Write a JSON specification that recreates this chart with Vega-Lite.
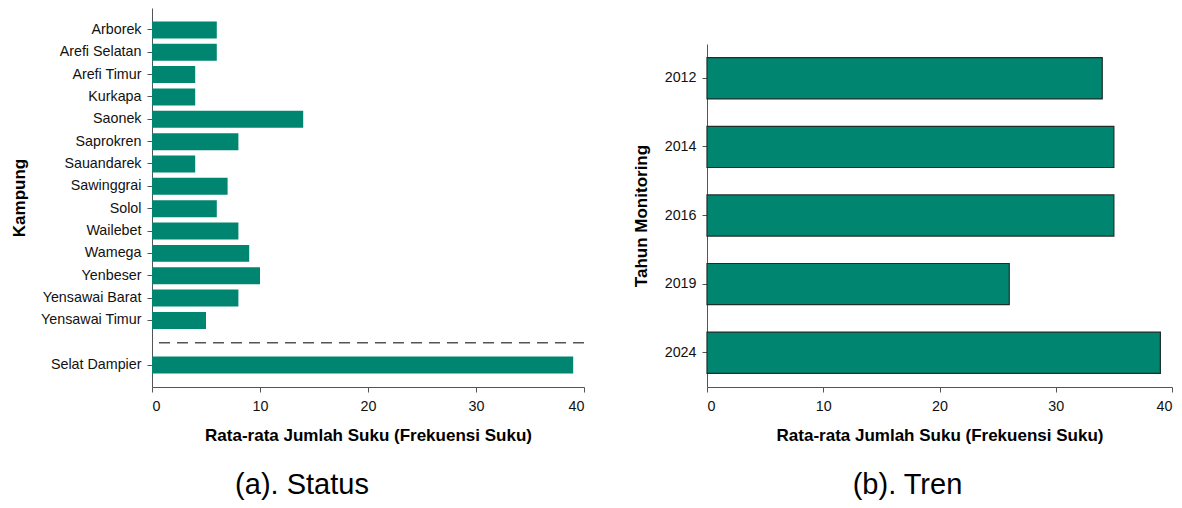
{
  "$schema": "https://vega.github.io/schema/vega-lite/v6.json",
  "padding": {"left": 10, "top": 8, "right": 0, "bottom": 0},
  "spacing": 47,
  "config": {
    "view": {"stroke": null},
    "axis": {
      "labelFont": "Liberation Sans",
      "titleFont": "Liberation Sans",
      "labelFontSize": 14.3,
      "titleFontSize": 17,
      "titleFontWeight": "bold",
      "labelColor": "#111111",
      "titleColor": "#000000",
      "domainColor": "#555555",
      "tickColor": "#555555",
      "grid": false,
      "tickSize": 5
    },
    "title": {"font": "Liberation Sans", "fontWeight": "normal", "color": "#000000", "fontSize": 29}
  },
  "hconcat": [
    {
      "width": 432,
      "height": 379,
      "data": {
        "values": [
          {"kampung": "Arborek", "suku": 6},
          {"kampung": "Arefi Selatan", "suku": 6},
          {"kampung": "Arefi Timur", "suku": 4},
          {"kampung": "Kurkapa", "suku": 4},
          {"kampung": "Saonek", "suku": 14},
          {"kampung": "Saprokren", "suku": 8},
          {"kampung": "Sauandarek", "suku": 4},
          {"kampung": "Sawinggrai", "suku": 7},
          {"kampung": "Solol", "suku": 6},
          {"kampung": "Wailebet", "suku": 8},
          {"kampung": "Wamega", "suku": 9},
          {"kampung": "Yenbeser", "suku": 10},
          {"kampung": "Yensawai Barat", "suku": 8},
          {"kampung": "Yensawai Timur", "suku": 5},
          {"kampung": "Selat Dampier", "suku": 39}
        ]
      },
      "title": {"text": "(a). Status", "orient": "bottom", "dx": -66, "offset": 28},
      "layer": [
        {
          "mark": {"type": "bar", "color": "#008570"},
          "encoding": {
            "y": {
              "field": "kampung",
              "type": "nominal",
              "title": "Kampung",
              "scale": {
                "domain": ["Arborek", "Arefi Selatan", "Arefi Timur", "Kurkapa", "Saonek", "Saprokren", "Sauandarek", "Sawinggrai", "Solol", "Wailebet", "Wamega", "Yenbeser", "Yensawai Barat", "Yensawai Timur", " ", "Selat Dampier"],
                "paddingInner": 0.24,
                "paddingOuter": 0.6
              },
              "axis": {
                "labelPadding": 6,
                "titlePadding": 12,
                "tickOpacity": {"condition": {"test": "datum.value === ' '", "value": 0}, "value": 1}
              }
            },
            "x": {
              "field": "suku",
              "type": "quantitative",
              "title": "Rata-rata Jumlah Suku (Frekuensi Suku)",
              "scale": {"domain": [0, 40], "nice": false},
              "axis": {"values": [0, 10, 20, 30, 40], "labelPadding": 7, "titlePadding": 14}
            }
          }
        },
        {
          "data": {"values": [{"kampung": " "}]},
          "mark": {"type": "rule", "strokeDash": [11, 7], "color": "#555555", "strokeWidth": 1.5},
          "encoding": {
            "y": {"field": "kampung", "type": "nominal"}
          }
        }
      ]
    },
    {
      "spacing": 0,
      "vconcat": [
        {
          "width": 10,
          "height": 36,
          "data": {"values": []},
          "mark": {"type": "rule"},
          "encoding": {}
        },
        {
          "width": 465,
          "height": 343,
          "data": {
            "values": [
              {"tahun": "2012", "suku": 34},
              {"tahun": "2014", "suku": 35},
              {"tahun": "2016", "suku": 35},
              {"tahun": "2019", "suku": 26},
              {"tahun": "2024", "suku": 39}
            ]
          },
          "title": {"text": "(b). Tren", "orient": "bottom", "dx": -32, "offset": 28},
          "mark": {"type": "bar", "color": "#008570", "stroke": "#1e2e29", "strokeWidth": 1.2},
          "encoding": {
            "y": {
              "field": "tahun",
              "type": "nominal",
              "title": "Tahun Monitoring",
              "sort": ["2012", "2014", "2016", "2019", "2024"],
              "scale": {"paddingInner": 0.4, "paddingOuter": 0.2},
              "axis": {"labelPadding": 6, "titlePadding": 14}
            },
            "x": {
              "field": "suku",
              "type": "quantitative",
              "title": "Rata-rata Jumlah Suku (Frekuensi Suku)",
              "scale": {"domain": [0, 40], "nice": false},
              "axis": {"values": [0, 10, 20, 30, 40], "labelPadding": 7, "titlePadding": 14}
            }
          }
        }
      ]
    }
  ]
}
